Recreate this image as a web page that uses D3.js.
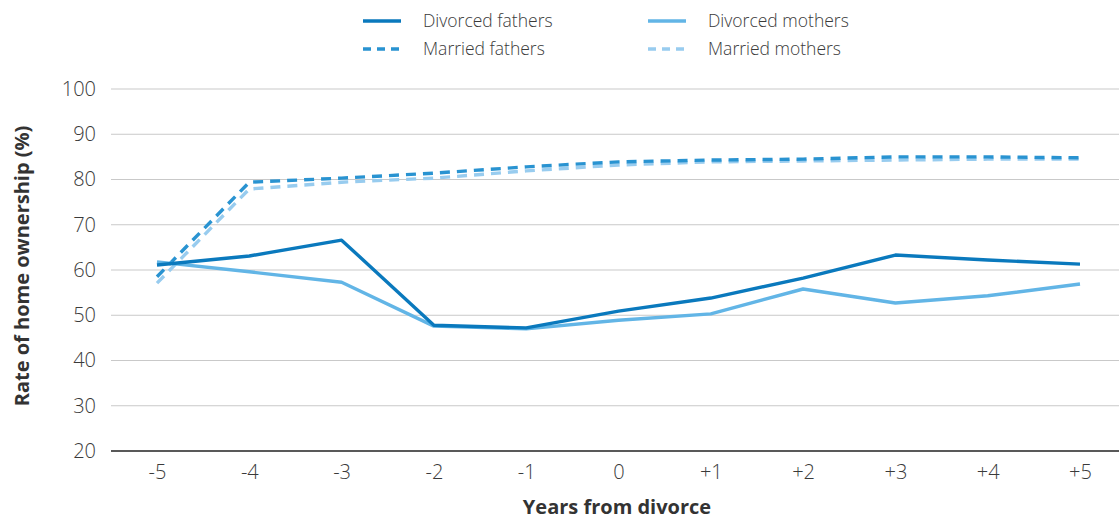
<!DOCTYPE html>
<html><head><meta charset="utf-8">
<script src="https://cdn.jsdelivr.net/npm/d3@7"></script>
<style>body{margin:0;background:#fff}svg{display:block;font-family:"Open Sans",sans-serif}</style>
</head><body><svg id="c" width="1119" height="522"></svg>
<script>
const categories = ["-5","-4","-3","-2","-1","0","+1","+2","+3","+4","+5"];
const divorcedFathers = [61.1,63.1,66.6,47.8,47.2,50.9,53.8,58.2,63.3,62.2,61.3];
const divorcedMothers = [61.8,59.6,57.3,47.6,47.0,48.9,50.3,55.8,52.7,54.3,56.9];
const marriedFathers = [58.5,79.4,80.3,81.4,82.8,83.9,84.3,84.5,85.0,85.0,84.8];
const marriedMothers = [57.1,77.9,79.4,80.3,81.9,83.2,83.9,84.1,84.3,84.5,84.5];
const yTicks = [20,30,40,50,60,70,80,90,100];

const svg = d3.select("#c");
const x = d3.scalePoint().domain(categories).range([157,1080]);
const y = d3.scaleLinear().domain([20,100]).range([451,89]);

// gridlines
svg.append("g").selectAll("line").data(yTicks.filter(d=>d>20)).join("line")
  .attr("x1",111).attr("x2",1119).attr("y1",d=>y(d)).attr("y2",d=>y(d))
  .attr("stroke","#c9c9c9").attr("stroke-width",1.2);

// y axis labels
const yAxis = svg.append("g").attr("transform","translate(111,0)")
  .call(d3.axisLeft(y).tickValues(yTicks).tickSize(0).tickPadding(15));
yAxis.select(".domain").remove();
yAxis.selectAll("text").attr("font-size",20).attr("fill","#3a3a3a").attr("font-weight",300).attr("font-family","'Open Sans',sans-serif");

// x axis
const xAxis = svg.append("g").attr("transform","translate(0,451)")
  .call(d3.axisBottom(x).tickSize(0).tickPadding(14));
xAxis.select(".domain").remove();
xAxis.selectAll("text").attr("font-size",20).attr("fill","#3a3a3a").attr("font-weight",300).attr("font-family","'Open Sans',sans-serif");
svg.append("line").attr("x1",111).attr("x2",1119).attr("y1",y(20)).attr("y2",y(20))
  .attr("stroke","#222").attr("stroke-width",1.3);

// titles
svg.append("text").attr("x",617).attr("y",514).attr("text-anchor","middle")
  .attr("font-size",20).attr("font-weight","bold").attr("fill","#333").text("Years from divorce");
svg.append("text").attr("transform","translate(29,266) rotate(-90)").attr("text-anchor","middle")
  .attr("font-size",20).attr("font-weight","bold").attr("fill","#333").text("Rate of home ownership (%)");

const series = [
  {name:"Divorced fathers", values:divorcedFathers, color:"#0a79bd", dash:null},
  {name:"Divorced mothers", values:divorcedMothers, color:"#62b5e6", dash:null},
  {name:"Married fathers", values:marriedFathers, color:"#2993d1", dash:"10,7"},
  {name:"Married mothers", values:marriedMothers, color:"#98ccef", dash:"10,7"}
];
const line = d3.line().x((d,i)=>x(categories[i])).y(d=>y(d));
const drawOrder = [3,2,1,0];
drawOrder.forEach(k=>{
  const s = series[k];
  svg.append("path").attr("d",line(s.values)).attr("fill","none")
    .attr("stroke",s.color).attr("stroke-width",3.4).attr("stroke-linejoin","round")
    .attr("stroke-dasharray",s.dash);
});

// legend
const legPos = [[363,21],[648,21],[363,49],[648,49]];
series.forEach((s,i)=>{
  const [lx,ly] = legPos[i];
  svg.append("line").attr("x1",lx).attr("x2",lx+38).attr("y1",ly).attr("y2",ly)
    .attr("stroke",s.color).attr("stroke-width",3.4).attr("stroke-dasharray",s.dash?"8,6":null);
  svg.append("text").attr("x",lx+60).attr("y",ly+6).attr("font-size",17.5).attr("font-weight",300).attr("fill","#3a3a3a").text(s.name);
});
</script></body></html>
